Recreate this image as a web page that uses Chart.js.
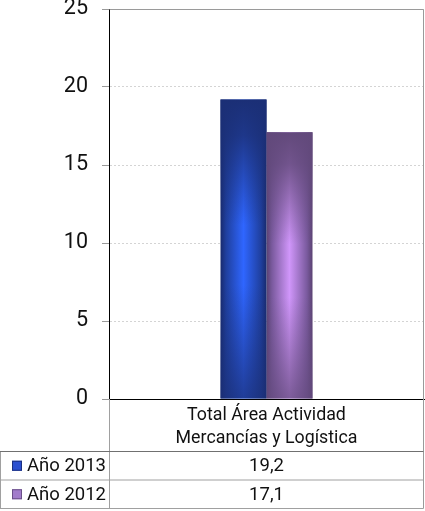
<!DOCTYPE html>
<html><head><meta charset="utf-8">
<script src="https://cdn.jsdelivr.net/npm/chart.js@4"></script>
<style>html,body{margin:0;padding:0;background:#fff;overflow:hidden}canvas{display:block}</style>
</head><body>
<canvas id="c" width="425" height="511"></canvas>
<script>
const categories = [['Total Área Actividad', 'Mercancías y Logística']];
const seriesNames = ['Año 2013', 'Año 2012'];
const values2013 = [19.2];
const values2012 = [17.1];
const yMin = 0, yMax = 25, yStep = 5;

const FONT = "Roboto, 'Liberation Sans', sans-serif";
const styles = [
  {edge:'#182a6e', side:'#1f3f9e', mid:'#2f66ff', top:'#1b2f76', box:'#2a4fd0', boxEdge:'#1a2f80'},
  {edge:'#5a4272', side:'#7a5a9e', mid:'#d096fa', top:'#62497b', box:'#a27ccb', boxEdge:'#6a4f88'}
];

function rgba(hex, a){
  const n = parseInt(hex.slice(1),16);
  return `rgba(${n>>16&255},${n>>8&255},${n&255},${a})`;
}

const barShade = {
  id:'barShade',
  beforeDatasetsDraw(chart){
    const ctx = chart.ctx;
    chart.data.datasets.forEach((ds, di) => {
      const s = styles[di];
      chart.getDatasetMeta(di).data.forEach(el => {
        const l = el.x - el.width/2, r = el.x + el.width/2;
        const g = ctx.createLinearGradient(l, 0, r, 0);
        g.addColorStop(0, s.edge); g.addColorStop(0.12, s.side);
        g.addColorStop(0.5, s.mid);
        g.addColorStop(0.88, s.side); g.addColorStop(1, s.edge);
        el.options.backgroundColor = g;
      });
    });
  },
  afterDatasetsDraw(chart){
    const ctx = chart.ctx;
    chart.data.datasets.forEach((ds, di) => {
      const s = styles[di];
      chart.getDatasetMeta(di).data.forEach(el => {
        const l = el.x - el.width/2, t = el.y, b = el.base;
        const g = ctx.createLinearGradient(0, t, 0, b);
        g.addColorStop(0, rgba(s.top, 1));
        g.addColorStop(0.12, rgba(s.top, 0.85));
        g.addColorStop(0.42, rgba(s.top, 0));
        g.addColorStop(0.62, rgba(s.top, 0));
        g.addColorStop(1, rgba(s.top, 0.75));
        ctx.save();
        ctx.fillStyle = g;
        ctx.fillRect(l, t, el.width, b - t);
        ctx.restore();
      });
    });
  }
};

const tablePlugin = {
  id:'tablePlugin',
  afterDraw(chart){
    const ctx = chart.ctx;
    const ca = chart.chartArea;
    const L = 0, R = 423.5, row1 = 451.5, row2 = 480, bottom = 508.5;
    const left = Math.round(ca.left) + 0.5;
    ctx.save();
    ctx.lineWidth = 1;
    ctx.strokeStyle = '#9a9a9a';
    ctx.beginPath();
    ctx.moveTo(left, Math.round(ca.top)+0.5); ctx.lineTo(R, Math.round(ca.top)+0.5);
    ctx.moveTo(R, Math.round(ca.top)+0.5); ctx.lineTo(R, bottom);
    ctx.stroke();
    ctx.strokeStyle = '#a0a0a0';
    ctx.beginPath();
    ctx.moveTo(left, Math.round(ca.bottom)); ctx.lineTo(left, bottom);
    ctx.moveTo(L+0.5, row1); ctx.lineTo(L+0.5, bottom);
    ctx.moveTo(L, row2); ctx.lineTo(R, row2);
    ctx.moveTo(L, bottom); ctx.lineTo(R, bottom);
    ctx.stroke();
    ctx.strokeStyle = '#707070';
    ctx.beginPath();
    ctx.moveTo(L, row1); ctx.lineTo(R, row1);
    ctx.stroke();
    const xs = chart.scales.x;
    const rows = [values2013, values2012];
    const rowsY = [(row1+row2)/2, (row2+bottom)/2];
    ctx.font = "18.5px " + FONT;
    ctx.textBaseline = 'middle';
    rows.forEach((vals, ri) => {
      const y = rowsY[ri];
      const s = styles[ri];
      ctx.fillStyle = s.box;
      ctx.fillRect(12, y - 5, 10, 10);
      ctx.strokeStyle = s.boxEdge;
      ctx.strokeRect(12.5, y - 4.5, 9, 9);
      ctx.fillStyle = '#111';
      ctx.textAlign = 'left';
      ctx.fillText(seriesNames[ri], 27, y + 1);
      ctx.textAlign = 'center';
      vals.forEach((v, ci) => {
        ctx.fillText(v.toFixed(1).replace('.', ','), xs.getPixelForValue(ci), y + 1);
      });
    });
    ctx.restore();
  }
};

new Chart(document.getElementById('c'), {
  type:'bar',
  data:{
    labels: categories,
    datasets:[
      {label: seriesNames[0], data: values2013, backgroundColor: styles[0].mid, borderWidth:0},
      {label: seriesNames[1], data: values2012, backgroundColor: styles[1].mid, borderWidth:0}
    ]
  },
  plugins:[barShade, tablePlugin],
  options:{
    responsive:false,
    devicePixelRatio:1,
    animation:false,
    layout:{padding:{left:0, right:1, top:9, bottom:60}},
    plugins:{legend:{display:false}, tooltip:{enabled:false}},
    datasets:{bar:{categoryPercentage:0.292, barPercentage:1}},
    scales:{
      y:{
        min:yMin, max:yMax,
        ticks:{stepSize:yStep, color:'#111', padding:14, font:{family:FONT, size:21.5}},
        grid:{color:'#d4d4d4', tickColor:'#999', tickLength:7, drawTicks:true},
        border:{color:'#000', width:1, dash:[2,2]},
        afterFit(s){ s.width = 109; s.paddingTop = 0; s.paddingBottom = 0; }
      },
      x:{
        ticks:{color:'#111', padding:5, font:{family:FONT, size:17.8, lineHeight:1.3}, maxRotation:0},
        grid:{display:false, drawTicks:false},
        border:{color:'#000', width:1},
        afterFit(s){ s.height = 52; s.paddingLeft = 0; s.paddingRight = 0; }
      }
    }
  }
});
</script>
</body></html>
